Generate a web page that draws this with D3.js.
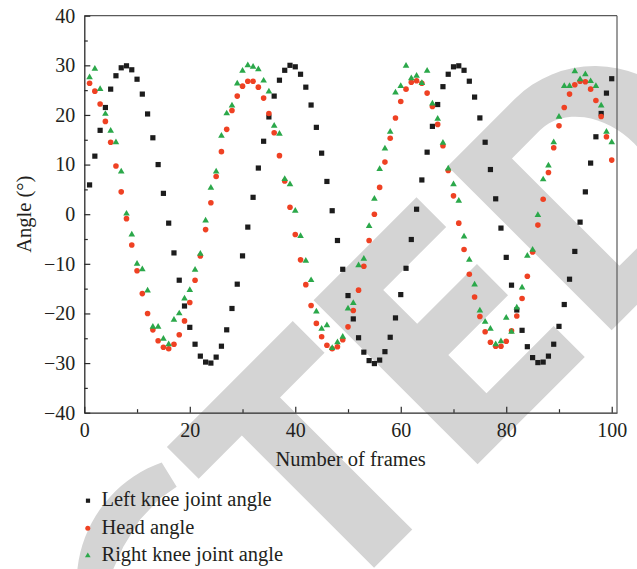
<!DOCTYPE html>
<html>
<head>
<meta charset="utf-8">
<script src="https://cdn.jsdelivr.net/npm/d3@7"></script>
<style>
  html, body { margin: 0; padding: 0; background: #ffffff; }
  svg { display: block; }
</style>
</head>
<body>
<svg id="chart" width="637" height="569"></svg>
<script>
// Frame index along the x axis
const frames = d3.range(1, 101);

// Joint angles (degrees) per frame
const leftKnee = [
  5.9, 11.7, 16.9, 21.5, 25.2, 27.9, 29.5, 29.9, 29.1, 27.2,
  24.2, 20.2, 15.4, 10.0, 4.2, -1.8, -7.8, -13.3, -18.5, -22.8,
  -26.2, -28.6, -29.8, -30.0, -28.8, -26.6, -23.3, -19.0, -14.1, -8.4,
  -2.6, 3.4, 9.3, 14.7, 19.6, 23.8, 27.0, 29.0, 30.0, 29.7,
  28.2, 25.6, 22.0, 17.5, 12.3, 6.6, 0.7, -5.3, -11.1, -16.4,
  -21.1, -24.9, -27.8, -29.5, -30.1, -29.4, -27.7, -24.8, -20.9, -16.2,
  -10.9, -5.1, 1.0, 6.9, 12.5, 17.7, 22.1, 25.7, 28.2, 29.7,
  29.9, 29.0, 26.8, 23.6, 19.4, 14.5, 9.0, 3.1, -2.8, -8.7,
  -14.3, -19.3, -23.4, -26.7, -28.9, -29.9, -29.8, -28.6, -26.2, -22.6,
  -18.2, -13.1, -7.5, -1.6, 4.5, 10.3, 15.6, 20.3, 24.4, 27.3
];

const headAngle = [
  26.4, 24.8, 22.2, 18.7, 14.5, 9.7, 4.5, -0.9, -6.2, -11.4,
  -16.0, -20.0, -23.3, -25.5, -26.8, -27.1, -26.2, -24.3, -21.5, -17.8,
  -13.3, -8.4, -3.1, 2.3, 7.6, 12.6, 17.1, 20.9, 23.8, 25.8,
  26.8, 26.8, 25.6, 23.4, 20.3, 16.4, 11.8, 6.7, 1.4, -4.1,
  -9.2, -14.2, -18.4, -22.0, -24.7, -26.4, -27.1, -26.7, -25.3, -22.7,
  -19.4, -15.3, -10.5, -5.3, 0.0, 5.4, 10.5, 15.3, 19.4, 22.7,
  25.2, 26.6, 26.9, 26.4, 24.4, 21.7, 18.1, 13.8, 8.8, 3.7,
  -1.8, -7.1, -12.1, -16.7, -20.6, -23.7, -25.8, -26.6, -26.6, -25.6,
  -23.5, -20.5, -17.0, -12.5, -7.6, -2.2, 3.0, 8.4, 13.4, 17.8,
  21.5, 24.2, 26.1, 26.8, 26.7, 25.2, 22.9, 19.7, 15.6, 10.9
];

const rightKnee = [
  27.6, 29.3, 25.2, 20.2, 16.8, 14.5, 8.6, 0.1, -4.1, -10.0,
  -11.1, -15.4, -22.7, -22.7, -25.1, -26.2, -21.3, -20.0, -17.0, -15.3,
  -11.2, -8.0, -1.3, 5.3, 8.6, 15.8, 20.3, 21.9, 26.3, 28.9,
  30.0, 29.7, 29.2, 26.9, 24.7, 17.8, 16.2, 7.1, 6.0, 0.7,
  -4.4, -9.4, -13.3, -19.6, -23.1, -22.4, -27.0, -25.8, -24.7, -19.0,
  -17.9, -10.3, -9.0, -2.4, 3.1, 9.1, 13.2, 16.6, 24.5, 25.8,
  29.9, 27.4, 27.9, 26.4, 28.9, 22.3, 19.2, 14.4, 9.2, 6.0,
  2.7, -4.5, -9.2, -14.2, -19.4, -21.7, -23.1, -26.2, -25.6, -20.9,
  -23.7, -18.8, -14.8, -8.4, -7.2, -0.2, 7.0, 9.8, 14.5, 19.6,
  25.8, 25.8, 28.8, 27.2, 28.2, 26.8, 25.8, 21.9, 16.6, 14.5
];

const seriesNames = ["Left knee joint angle", "Head angle", "Right knee joint angle"];
const xTicks = [0, 20, 40, 60, 80, 100];
const xMinorTicks = [10, 30, 50, 70, 90];
const yTicks = [-40, -30, -20, -10, 0, 10, 20, 30, 40];
const yMinorTicks = [-35, -25, -15, -5, 5, 15, 25, 35];

const COLORS = { black: "#1c1c1c", red: "#ef4123", green: "#2ba84a" };
const FONT = "'Liberation Serif', 'Times New Roman', serif";
const TEXT_COLOR = "#231f20";

const svg = d3.select("#chart");

const x = d3.scaleLinear().domain([0, 101]).range([84.3, 617]);
const y = d3.scaleLinear().domain([-40, 40]).range([412.7, 15.7]);

// ---- Diagonal "RETRACTED" stamp letters (…C T E D), drawn underneath the plot ----
const stamp = svg.append("g")
  .attr("class", "watermark")
  .attr("transform", "rotate(-45)")
  .attr("fill", "#d4d4d4");

// C (only its upper-left part falls inside the page)
stamp.append("path").attr("d",
  "M-212.6,441.3 A125,121 0 1 0 -212.6,658.7 " +
  "L-219.2,630.9 L-240,634.5 L-268.7,633.5 L-299.4,626.2 L-322.3,617.5 L-338,602 L-346,580 " +
  "L-349,550 L-346,520 L-338,498 L-322.3,482.5 L-299.4,473.8 L-268.7,466.5 L-240,465.5 L-219.2,469.1 Z");
// T
stamp.append("path").attr("d", "M-198,434H-20V479H-83V666H-137V479H-198Z");
// E
stamp.append("path").attr("d", "M9.4,434H155V476H66V524H150.5V568H66V622H161V666H9.4Z");
// D
stamp.append("path").attr("fill-rule", "evenodd").attr("d",
  "M199,434H294A114,116 0 0 1 294,666H199Z M250,474H290A57,76 0 0 1 290,626H250Z");

// ---- Axes ----
function styleAxis(g) {
  g.attr("font-family", FONT).attr("font-size", 20);
  g.selectAll(".domain").attr("stroke", "#2a2a2a").attr("stroke-width", 1.3);
  g.selectAll(".tick line").attr("stroke", "#2a2a2a").attr("stroke-width", 1.2);
  g.selectAll(".tick text").attr("fill", TEXT_COLOR);
}

// frame border (top and right)
svg.append("line")
  .attr("x1", x(0)).attr("x2", x(101)).attr("y1", y(40)).attr("y2", y(40))
  .attr("stroke", "#5a5a5a").attr("stroke-width", 1.2);
svg.append("line")
  .attr("x1", x(101)).attr("x2", x(101)).attr("y1", y(40)).attr("y2", y(-40))
  .attr("stroke", "#5a5a5a").attr("stroke-width", 1.2);

svg.append("g")
  .attr("transform", `translate(0,${y(-40)})`)
  .call(d3.axisBottom(x).tickValues(xMinorTicks).tickSizeInner(-3.5).tickSizeOuter(0).tickFormat(""))
  .call(g => { styleAxis(g); g.select(".domain").remove(); });

svg.append("g")
  .attr("transform", `translate(${x(0)},0)`)
  .call(d3.axisLeft(y).tickValues(yMinorTicks).tickSizeInner(-3.5).tickSizeOuter(0).tickFormat(""))
  .call(g => { styleAxis(g); g.select(".domain").remove(); });

svg.append("g")
  .attr("transform", `translate(0,${y(-40)})`)
  .call(d3.axisBottom(x).tickValues(xTicks).tickSizeInner(-6).tickSizeOuter(0).tickPadding(10))
  .call(styleAxis);

svg.append("g")
  .attr("transform", `translate(${x(0)},0)`)
  .call(d3.axisLeft(y).tickValues(yTicks).tickSizeInner(-6).tickSizeOuter(0).tickPadding(9))
  .call(styleAxis);

// axis titles
svg.append("text")
  .attr("x", (x(0) + x(101)) / 2).attr("y", 466)
  .attr("text-anchor", "middle")
  .attr("font-family", FONT).attr("font-size", 20.5).attr("fill", TEXT_COLOR)
  .text("Number of frames");

svg.append("text")
  .attr("transform", `translate(31,${y(0)}) rotate(-90)`)
  .attr("text-anchor", "middle")
  .attr("font-family", FONT).attr("font-size", 20.5).attr("fill", TEXT_COLOR)
  .text("Angle (°)");

// ---- Data markers ----
const squareSide = 5.2;
svg.append("g").selectAll("rect")
  .data(frames)
  .join("rect")
  .attr("x", (f) => x(f) - squareSide / 2)
  .attr("y", (f, i) => y(leftKnee[i]) - squareSide / 2)
  .attr("width", squareSide).attr("height", squareSide)
  .attr("fill", COLORS.black);

svg.append("g").selectAll("circle")
  .data(frames)
  .join("circle")
  .attr("cx", (f) => x(f))
  .attr("cy", (f, i) => y(headAngle[i]))
  .attr("r", 2.8)
  .attr("fill", COLORS.red);

const tri = d3.symbol().type(d3.symbolTriangle).size(19);
svg.append("g").selectAll("path")
  .data(frames)
  .join("path")
  .attr("transform", (f, i) => `translate(${x(f)},${y(rightKnee[i])})`)
  .attr("d", tri)
  .attr("fill", COLORS.green);

// ---- Legend ----
const legend = svg.append("g").attr("font-family", FONT).attr("font-size", 20.5).attr("fill", TEXT_COLOR);
const legendRows = [500.7, 528.3, 555.7];

legend.append("rect")
  .attr("x", 88 - 2.1).attr("y", legendRows[0] - 2.1)
  .attr("width", 4.2).attr("height", 4.2)
  .attr("fill", COLORS.black);
legend.append("circle")
  .attr("cx", 87.8).attr("cy", legendRows[1]).attr("r", 2.5)
  .attr("fill", COLORS.red);
legend.append("path")
  .attr("transform", `translate(87.8,${legendRows[2]})`)
  .attr("d", d3.symbol().type(d3.symbolTriangle).size(14))
  .attr("fill", COLORS.green);

legend.selectAll("text.label")
  .data(seriesNames)
  .join("text")
  .attr("class", "label")
  .attr("x", 101.5)
  .attr("y", (d, i) => legendRows[i] + 5.2)
  .text(d => d);
</script>
</body>
</html>
